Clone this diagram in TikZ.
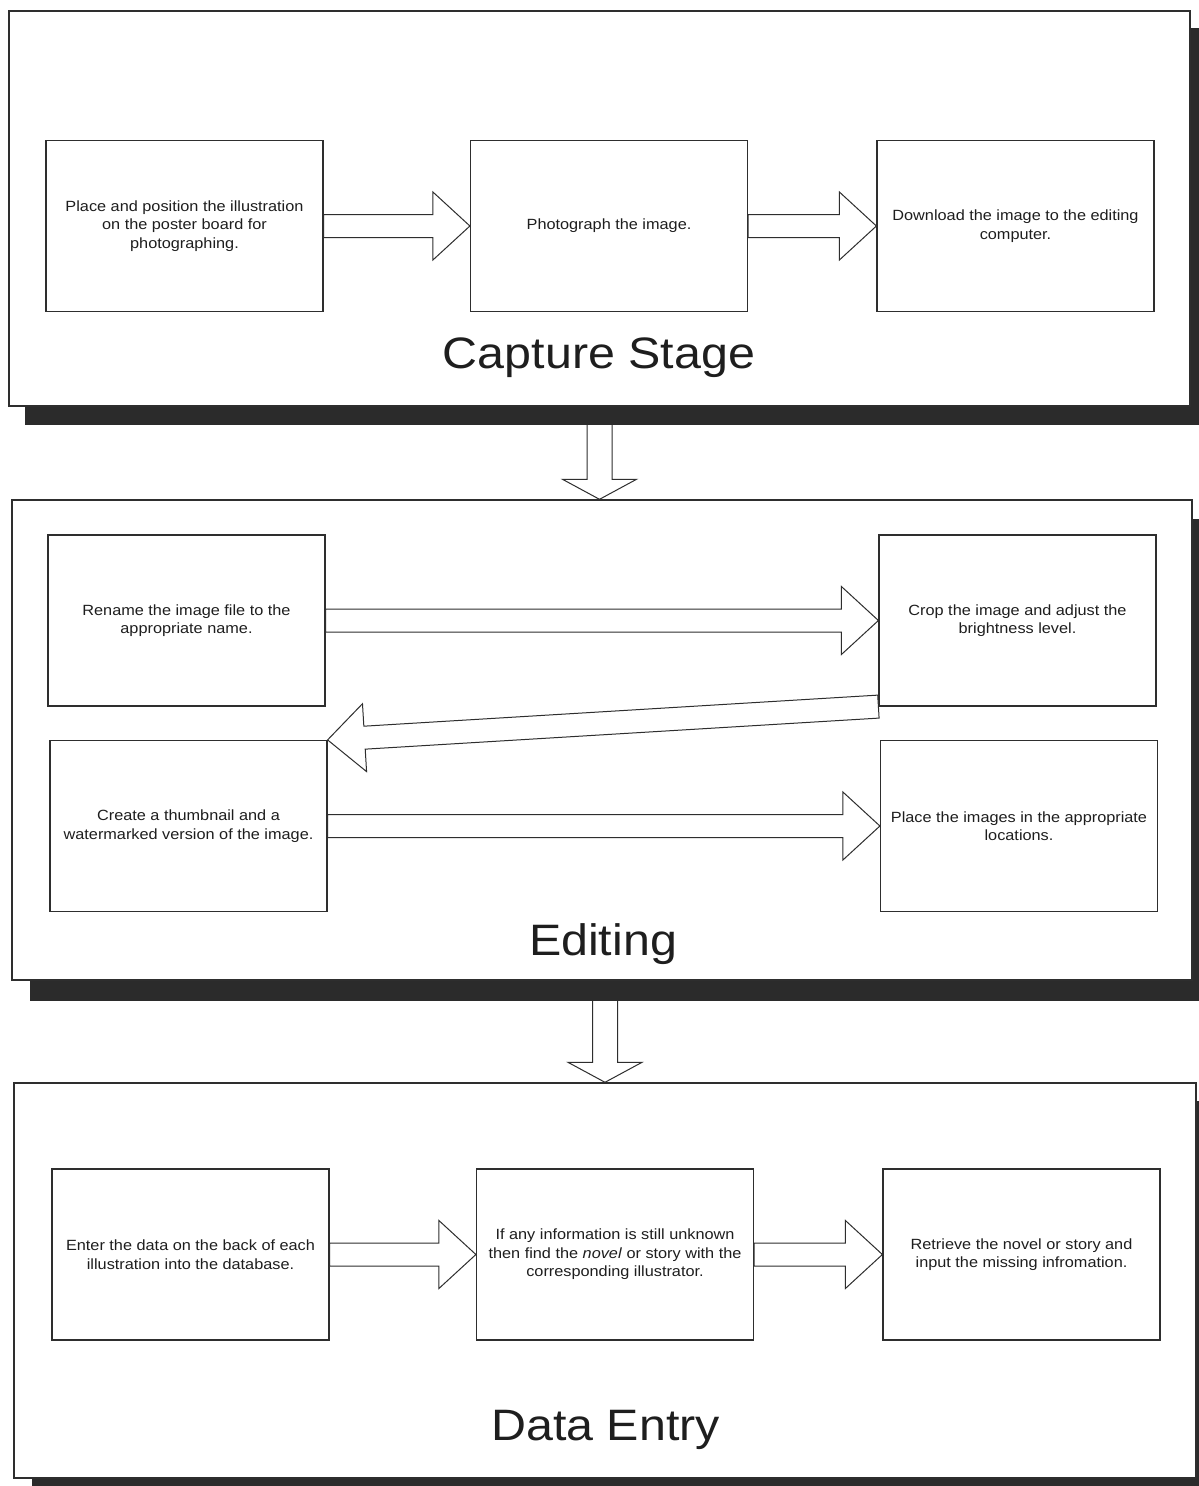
\documentclass[tikz,border=0pt]{standalone}
\usepackage{fontspec}
\setmainfont{Liberation Sans}[FakeStretch=1.1]
\usetikzlibrary{calc}
\pgfdeclarelayer{bglayer}
\pgfdeclarelayer{arrowlayer}
\pgfdeclarelayer{shadowlayer}
\pgfsetlayers{bglayer,arrowlayer,shadowlayer,main}
\definecolor{shadowc}{HTML}{2B2B2B}
\definecolor{linec}{HTML}{2E2E2E}
\definecolor{textc}{HTML}{1E1E1E}
\begin{document}
\begin{tikzpicture}[x=1pt,y=-1pt,
  stage/.style={draw=linec, line width=1.4pt, fill=white, inner sep=0pt},
  stepbox/.style={draw=linec, line width=1.2pt, fill=white, inner sep=4pt,
    minimum width=277pt, minimum height=171pt, align=center, text=textc,
    font=\fontsize{14.8}{18.5}\selectfont},
  title/.style={text=textc, font=\fontsize{44}{50}\selectfont, anchor=base, inner sep=0pt},
  arrowline/.style={draw=linec, line width=1pt, fill=white, line join=miter},
  blockarrow/.style n args={3}{to path={
     ($(\tikztostart)!#1!90:(\tikztotarget)$)
  -- ($(\tikztotarget)!#3!(\tikztostart)!#1!90:(\tikztotarget)$)
  -- ($(\tikztotarget)!#3!(\tikztostart)!#2!90:(\tikztotarget)$)
  -- (\tikztotarget)
  -- ($(\tikztotarget)!#3!(\tikztostart)!#2!-90:(\tikztotarget)$)
  -- ($(\tikztotarget)!#3!(\tikztostart)!#1!-90:(\tikztotarget)$)
  -- ($(\tikztostart)!#1!-90:(\tikztotarget)$) -- cycle}},
  flowarrow/.style={blockarrow={11.5pt}{34pt}{37pt}},
  downarrow/.style={blockarrow={12.5pt}{37pt}{20pt}}
]
\clip (0,0) rectangle (1199,1486);
\begin{pgfonlayer}{bglayer}
  \fill[white] (0,0) rectangle (1199,1486);
\end{pgfonlayer}

% stage frames
\node[stage, minimum width=1181pt, minimum height=395pt] (cap) at (599.5,208.5) {};
\node[stage, minimum width=1180pt, minimum height=480pt] (edit) at (602,740) {};
\node[stage, minimum width=1182pt, minimum height=395pt] (data) at (605,1280.5) {};

\begin{pgfonlayer}{shadowlayer}
  \fill[shadowc] ([shift={(17,18)}]cap.north west) rectangle ([shift={(17,18)}]cap.south east);
  \fill[shadowc] ([shift={(19,20)}]edit.north west) rectangle ([shift={(19,20)}]edit.south east);
  \fill[shadowc] ([shift={(19,19)}]data.north west) rectangle ([shift={(19,19)}]data.south east);
\end{pgfonlayer}

\begin{pgfonlayer}{arrowlayer}
  \draw[arrowline] (cap.south) to[downarrow] (cap.south |- edit.north);
  \draw[arrowline] (edit.south -| data.north) to[downarrow] (data.north);
\end{pgfonlayer}

% titles
\node[title] (capt) at (599,368) {Capture Stage};
\node[title] (editt) at (603,955) {Editing};
\node[title] (datat) at (605.5,1440) {Data Entry};

% capture stage
\node[stepbox] (a1) at (184.5,226) {Place and position the illustration\\on the poster board for\\photographing.};
\node[stepbox] (a2) at (609,226) {Photograph the image.};
\node[stepbox] (a3) at (1015.5,226) {Download the image to the editing\\computer.};

% editing
\node[stepbox] (b1) at (186.5,620.5) {Rename the image file to the\\appropriate name.};
\node[stepbox] (b2) at (1017.5,620.5) {Crop the image and adjust the\\brightness level.};
\node[stepbox] (b3) at (188.5,826) {Create a thumbnail and a\\watermarked version of the image.};
\node[stepbox] (b4) at (1019,826) {Place the images in the appropriate\\locations.};

% data entry
\node[stepbox] (c1) at (190.5,1254.5) {Enter the data on the back of each\\illustration into the database.};
\node[stepbox] (c2) at (615,1254.5) {If any information is still unknown\\then find the \textit{novel} or story with the\\corresponding illustrator.};
\node[stepbox] (c3) at (1021.5,1254.5) {Retrieve the novel or story and\\input the missing infromation.};

% connectors
\draw[arrowline] (a1.east) to[flowarrow] (a2.west);
\draw[arrowline] (a2.east) to[flowarrow] (a3.west);
\draw[arrowline] (b1.east) to[flowarrow] (b2.west);
\draw[arrowline] (b2.south west) to[flowarrow] (b3.north east);
\draw[arrowline] (b3.east) to[flowarrow] (b4.west);
\draw[arrowline] (c1.east) to[flowarrow] (c2.west);
\draw[arrowline] (c2.east) to[flowarrow] (c3.west);
\end{tikzpicture}
\end{document}
